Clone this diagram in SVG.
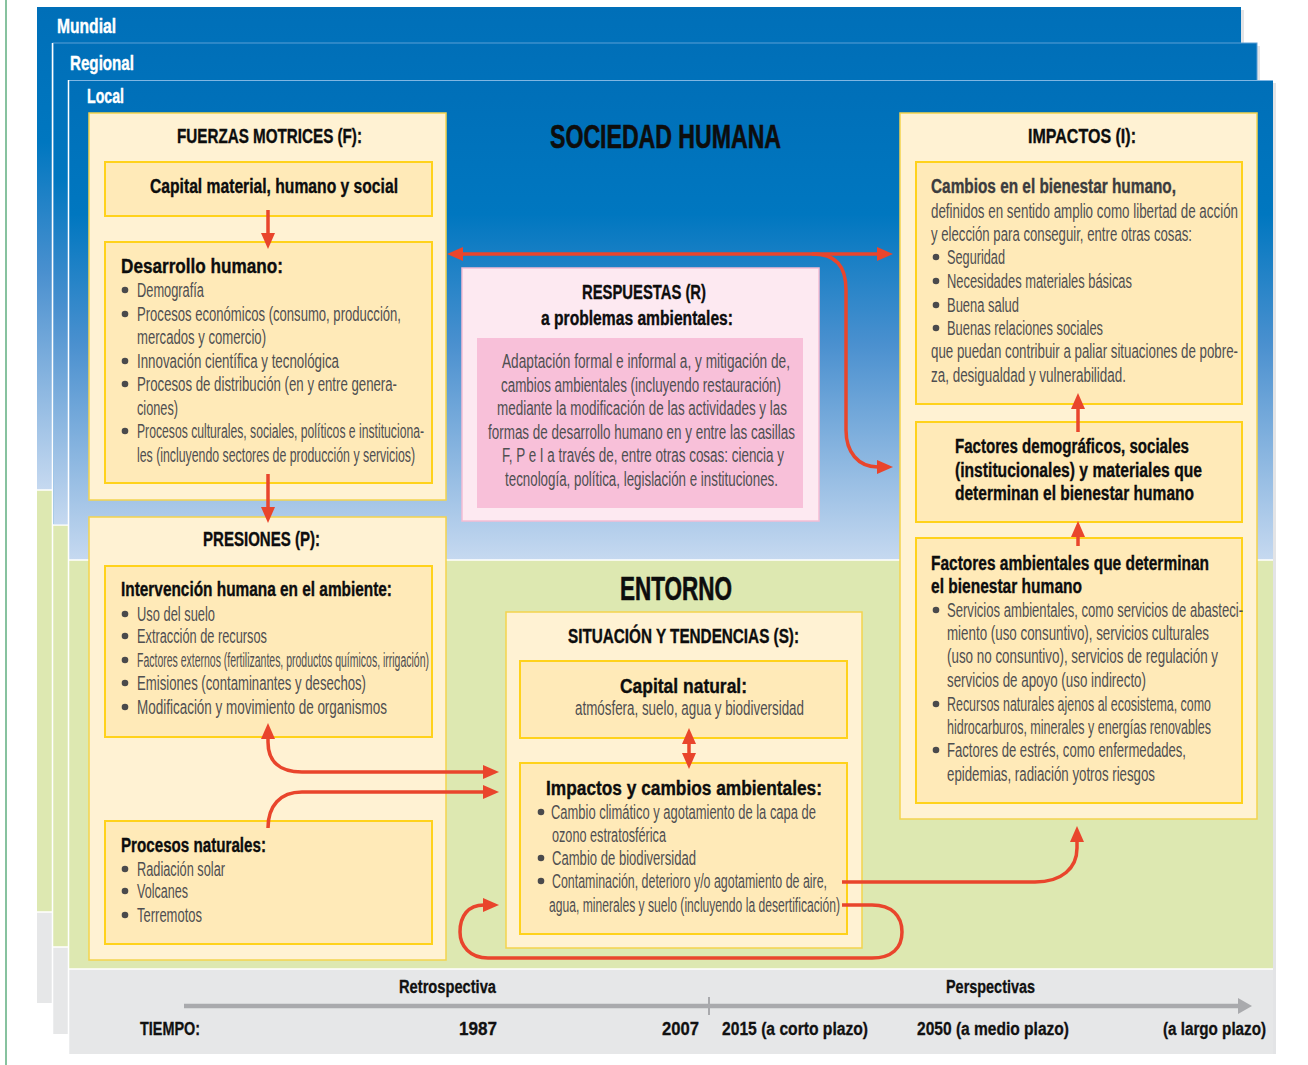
<svg xmlns="http://www.w3.org/2000/svg" width="1308" height="1065" viewBox="0 0 1308 1065">
<style>
text{font-family:"Liberation Sans Narrow","Liberation Sans",Arial,sans-serif}
.h{font-weight:bold;fill:#0d0d0d;stroke:#0d0d0d;stroke-width:0.35;font-size:20px}
.hb{font-weight:bold;fill:#0d0d0d;stroke:#0d0d0d;stroke-width:0.6;font-size:33px}
.hd{font-weight:bold;fill:#3c3c3e;stroke:#3c3c3e;stroke-width:0.35;font-size:20px}
.b{fill:#4f4f51;font-size:20px}
.w{font-weight:bold;fill:#fff;stroke:#fff;stroke-width:0.4;font-size:21px}
.tl{font-weight:bold;fill:#111;stroke:#111;stroke-width:0.3;font-size:18px}
.outer{fill:#fff2d3;stroke:#f3d34e;stroke-width:1.5}
.inner{fill:#ffeab8;stroke:#ffd21c;stroke-width:2}
.dot{fill:#4a4a4c}
.arr{fill:none;stroke:#e9452c;stroke-width:3.5}
.green{fill:#dde8b1}
.gray{fill:#e6e7e8}
.sep{stroke:#fff;stroke-width:1.5}
</style>
<defs>
<linearGradient id="gM" gradientUnits="userSpaceOnUse" x1="0" y1="7" x2="0" y2="490"><stop offset="0" stop-color="#006fb8"/><stop offset="0.28" stop-color="#0077c0"/><stop offset="0.55" stop-color="#4a90cf"/><stop offset="1" stop-color="#c6d9f0"/></linearGradient>
<linearGradient id="gR" gradientUnits="userSpaceOnUse" x1="0" y1="43" x2="0" y2="525"><stop offset="0" stop-color="#006fb8"/><stop offset="0.28" stop-color="#0077c0"/><stop offset="0.55" stop-color="#4a90cf"/><stop offset="1" stop-color="#c6d9f0"/></linearGradient>
<linearGradient id="gL" gradientUnits="userSpaceOnUse" x1="0" y1="80" x2="0" y2="560"><stop offset="0" stop-color="#006fb8"/><stop offset="0.28" stop-color="#0077c0"/><stop offset="0.55" stop-color="#4a90cf"/><stop offset="1" stop-color="#c6d9f0"/></linearGradient>
<marker id="ah" viewBox="0 0 16 14" refX="1" refY="7" markerWidth="16" markerHeight="14" markerUnits="userSpaceOnUse" orient="auto-start-reverse"><path d="M0,0 L16,7 L0,14 z" fill="#e9452c"/></marker>
<marker id="tah" viewBox="0 0 14 16" refX="1" refY="8" markerWidth="14" markerHeight="16" markerUnits="userSpaceOnUse" orient="auto"><path d="M0,0 L14,8 L0,16 z" fill="#a9aaad"/></marker>
</defs>
<rect width="1308" height="1065" fill="#fff"/>
<line x1="6" y1="0" x2="6" y2="1065" stroke="#5fae7f" stroke-width="1.5"/>

<g id="panel-mundial">
<rect x="1241" y="10" width="3" height="993" fill="#e3e4e6"/>
<rect x="37" y="7" width="1204" height="483" fill="url(#gM)"/>
<rect x="37" y="490" width="1204" height="422" class="green"/>
<rect x="37" y="912" width="1204" height="91" class="gray"/>
<line x1="37" y1="490" x2="60" y2="490" class="sep"/>
<line x1="37" y1="912" x2="60" y2="912" class="sep"/>
<text x="57" y="33" class="w" textLength="59" lengthAdjust="spacingAndGlyphs">Mundial</text>
</g>
<g id="panel-regional">
<rect x="1257" y="46" width="3" height="988" fill="#e3e4e6"/>
<rect x="53" y="43" width="1204" height="482" fill="url(#gR)" stroke="#5b9fd6" stroke-width="1"/>
<rect x="53" y="525" width="1204" height="422" class="green"/>
<rect x="53" y="947" width="1204" height="87" class="gray"/>
<line x1="52.5" y1="43" x2="52.5" y2="1034" class="sep"/>
<line x1="53" y1="525" x2="70" y2="525" class="sep"/>
<line x1="53" y1="947" x2="70" y2="947" class="sep"/>
<text x="70" y="70" class="w" textLength="64" lengthAdjust="spacingAndGlyphs">Regional</text>
</g>
<g id="panel-local">
<rect x="1273" y="83" width="3" height="971" fill="#e3e4e6"/>
<rect x="69" y="80" width="1204" height="480" fill="url(#gL)"/>
<line x1="69" y1="80.5" x2="1273" y2="80.5" stroke="#7fb6e3" stroke-width="1"/>
<rect x="69" y="560" width="1204" height="409" class="green"/>
<rect x="69" y="969" width="1204" height="85" class="gray"/>
<line x1="68.5" y1="80" x2="68.5" y2="1054" class="sep"/>
<line x1="69" y1="560" x2="1273" y2="560" class="sep"/>
<line x1="69" y1="969" x2="1273" y2="969" class="sep"/>
<text x="87" y="103" class="w" textLength="37" lengthAdjust="spacingAndGlyphs">Local</text>
</g>

<text x="550" y="148" class="hb" textLength="231" lengthAdjust="spacingAndGlyphs">SOCIEDAD HUMANA</text>
<text x="620" y="600" class="hb" textLength="112" lengthAdjust="spacingAndGlyphs">ENTORNO</text>

<g id="fuerzas-motrices">
<rect x="89" y="113" width="357" height="387" class="outer"/>
<text x="177" y="143" class="h" textLength="185" lengthAdjust="spacingAndGlyphs">FUERZAS MOTRICES (F):</text>
</g>
<g id="capital-material">
<rect x="105" y="162" width="327" height="54" class="inner"/>
<text x="150" y="193" class="h" font-size="21" textLength="248" lengthAdjust="spacingAndGlyphs">Capital material, humano y social</text>
</g>
<g id="desarrollo-humano">
<rect x="105" y="242" width="327" height="241" class="inner"/>
<text x="121" y="273" class="h" textLength="162" lengthAdjust="spacingAndGlyphs">Desarrollo humano:</text>
<circle cx="125" cy="290" r="3.3" class="dot"/><text x="137" y="297" class="b" textLength="67" lengthAdjust="spacingAndGlyphs">Demografía</text>
<circle cx="125" cy="314" r="3.3" class="dot"/><text x="137" y="321" class="b" textLength="264" lengthAdjust="spacingAndGlyphs">Procesos económicos (consumo, producción,</text>
<text x="137" y="344" class="b" textLength="129" lengthAdjust="spacingAndGlyphs">mercados y comercio)</text>
<circle cx="125" cy="361" r="3.3" class="dot"/><text x="137" y="368" class="b" textLength="202" lengthAdjust="spacingAndGlyphs">Innovación científica y tecnológica</text>
<circle cx="125" cy="384" r="3.3" class="dot"/><text x="137" y="391" class="b" textLength="260" lengthAdjust="spacingAndGlyphs">Procesos de distribución (en y entre genera-</text>
<text x="137" y="415" class="b" textLength="41" lengthAdjust="spacingAndGlyphs">ciones)</text>
<circle cx="125" cy="431" r="3.3" class="dot"/><text x="137" y="438" class="b" textLength="287" lengthAdjust="spacingAndGlyphs">Procesos culturales, sociales, políticos e instituciona-</text>
<text x="137" y="462" class="b" textLength="278" lengthAdjust="spacingAndGlyphs">les (incluyendo sectores de producción y servicios)</text>
</g>

<g id="presiones">
<rect x="89" y="517" width="357" height="443" class="outer"/>
<text x="203" y="546" class="h" textLength="117" lengthAdjust="spacingAndGlyphs">PRESIONES (P):</text>
</g>
<g id="intervencion-humana">
<rect x="105" y="566" width="327" height="171" class="inner"/>
<text x="121" y="596" class="h" textLength="271" lengthAdjust="spacingAndGlyphs">Intervención humana en el ambiente:</text>
<circle cx="125" cy="614" r="3.3" class="dot"/><text x="137" y="621" class="b" textLength="78" lengthAdjust="spacingAndGlyphs">Uso del suelo</text>
<circle cx="125" cy="636" r="3.3" class="dot"/><text x="137" y="643" class="b" textLength="130" lengthAdjust="spacingAndGlyphs">Extracción de recursos</text>
<circle cx="125" cy="660" r="3.3" class="dot"/><text x="137" y="667" class="b" textLength="292" lengthAdjust="spacingAndGlyphs">Factores externos (fertilizantes, productos químicos, irrigación)</text>
<circle cx="125" cy="683" r="3.3" class="dot"/><text x="137" y="690" class="b" textLength="229" lengthAdjust="spacingAndGlyphs">Emisiones (contaminantes y desechos)</text>
<circle cx="125" cy="707" r="3.3" class="dot"/><text x="137" y="714" class="b" textLength="250" lengthAdjust="spacingAndGlyphs">Modificación y movimiento de organismos</text>
</g>
<g id="procesos-naturales">
<rect x="105" y="821" width="327" height="123" class="inner"/>
<text x="121" y="852" class="h" textLength="145" lengthAdjust="spacingAndGlyphs">Procesos naturales:</text>
<circle cx="125" cy="869" r="3.3" class="dot"/><text x="137" y="876" class="b" textLength="88" lengthAdjust="spacingAndGlyphs">Radiación solar</text>
<circle cx="125" cy="891" r="3.3" class="dot"/><text x="137" y="898" class="b" textLength="51" lengthAdjust="spacingAndGlyphs">Volcanes</text>
<circle cx="125" cy="915" r="3.3" class="dot"/><text x="137" y="922" class="b" textLength="65" lengthAdjust="spacingAndGlyphs">Terremotos</text>
</g>

<g id="respuestas">
<rect x="462" y="268" width="357" height="253" fill="#fde9f1" stroke="#f4bcd3" stroke-width="1.5"/>
<text x="582" y="299" class="h" textLength="124" lengthAdjust="spacingAndGlyphs">RESPUESTAS (R)</text>
<text x="541" y="325" class="h" textLength="192" lengthAdjust="spacingAndGlyphs">a problemas ambientales:</text>
<rect x="477" y="338" width="326" height="170" fill="#f8c0d9"/>
<text x="502" y="368" class="b" textLength="288" lengthAdjust="spacingAndGlyphs">Adaptación formal e informal a, y mitigación de,</text>
<text x="501" y="392" class="b" textLength="280" lengthAdjust="spacingAndGlyphs">cambios ambientales (incluyendo restauración)</text>
<text x="497" y="415" class="b" textLength="290" lengthAdjust="spacingAndGlyphs">mediante la modificación de las actividades y las</text>
<text x="488" y="439" class="b" textLength="307" lengthAdjust="spacingAndGlyphs">formas de desarrollo humano en y entre las casillas</text>
<text x="502" y="462" class="b" textLength="282" lengthAdjust="spacingAndGlyphs">F, P e I a través de, entre otras cosas: ciencia y</text>
<text x="505" y="486" class="b" textLength="273" lengthAdjust="spacingAndGlyphs">tecnología, política, legislación e instituciones.</text>
</g>

<g id="situacion-tendencias">
<rect x="506" y="612" width="356" height="336" class="outer"/>
<text x="568" y="643" class="h" textLength="231" lengthAdjust="spacingAndGlyphs">SITUACIÓN Y TENDENCIAS (S):</text>
</g>
<g id="capital-natural">
<rect x="520" y="661" width="327" height="77" class="inner"/>
<text x="620" y="693" class="h" textLength="127" lengthAdjust="spacingAndGlyphs">Capital natural:</text>
<text x="575" y="715" class="b" textLength="229" lengthAdjust="spacingAndGlyphs">atmósfera, suelo, agua y biodiversidad</text>
</g>
<g id="impactos-cambios">
<rect x="520" y="763" width="327" height="171" class="inner"/>
<text x="546" y="795" class="h" textLength="276" lengthAdjust="spacingAndGlyphs">Impactos y cambios ambientales:</text>
<circle cx="541" cy="812" r="3.3" class="dot"/><text x="551" y="819" class="b" textLength="265" lengthAdjust="spacingAndGlyphs">Cambio climático y agotamiento de la capa de</text>
<text x="552" y="842" class="b" textLength="114" lengthAdjust="spacingAndGlyphs">ozono estratosférica</text>
<circle cx="541" cy="858" r="3.3" class="dot"/><text x="552" y="865" class="b" textLength="144" lengthAdjust="spacingAndGlyphs">Cambio de biodiversidad</text>
<circle cx="541" cy="881" r="3.3" class="dot"/><text x="552" y="888" class="b" textLength="275" lengthAdjust="spacingAndGlyphs">Contaminación, deterioro y/o agotamiento de aire,</text>
<text x="549" y="912" class="b" textLength="291" lengthAdjust="spacingAndGlyphs">agua, minerales y suelo (incluyendo la desertificación)</text>
</g>

<g id="impactos">
<rect x="900" y="113" width="357" height="706" class="outer"/>
<text x="1028" y="143" class="h" textLength="108" lengthAdjust="spacingAndGlyphs">IMPACTOS (I):</text>
</g>
<g id="cambios-bienestar">
<rect x="916" y="162" width="326" height="242" class="inner"/>
<text x="931" y="193" class="hd" textLength="245" lengthAdjust="spacingAndGlyphs">Cambios en el bienestar humano,</text>
<text x="931" y="218" class="b" textLength="307" lengthAdjust="spacingAndGlyphs">definidos en sentido amplio como libertad de acción</text>
<text x="931" y="241" class="b" textLength="261" lengthAdjust="spacingAndGlyphs">y elección para conseguir, entre otras cosas:</text>
<circle cx="936" cy="257" r="3.3" class="dot"/><text x="947" y="264" class="b" textLength="58" lengthAdjust="spacingAndGlyphs">Seguridad</text>
<circle cx="936" cy="281" r="3.3" class="dot"/><text x="947" y="288" class="b" textLength="185" lengthAdjust="spacingAndGlyphs">Necesidades materiales básicas</text>
<circle cx="936" cy="305" r="3.3" class="dot"/><text x="947" y="312" class="b" textLength="72" lengthAdjust="spacingAndGlyphs">Buena salud</text>
<circle cx="936" cy="328" r="3.3" class="dot"/><text x="947" y="335" class="b" textLength="156" lengthAdjust="spacingAndGlyphs">Buenas relaciones sociales</text>
<text x="931" y="358" class="b" textLength="307" lengthAdjust="spacingAndGlyphs">que puedan contribuir a paliar situaciones de pobre-</text>
<text x="931" y="382" class="b" textLength="195" lengthAdjust="spacingAndGlyphs">za, desigualdad y vulnerabilidad.</text>
</g>
<g id="factores-demograficos">
<rect x="916" y="422" width="326" height="100" class="inner"/>
<text x="955" y="453" class="h" textLength="234" lengthAdjust="spacingAndGlyphs">Factores demográficos, sociales</text>
<text x="955" y="477" class="h" textLength="247" lengthAdjust="spacingAndGlyphs">(institucionales) y materiales que</text>
<text x="955" y="500" class="h" textLength="239" lengthAdjust="spacingAndGlyphs">determinan el bienestar humano</text>
</g>
<g id="factores-ambientales">
<rect x="916" y="538" width="326" height="265" class="inner"/>
<text x="931" y="570" class="h" textLength="278" lengthAdjust="spacingAndGlyphs">Factores ambientales que determinan</text>
<text x="931" y="593" class="h" textLength="151" lengthAdjust="spacingAndGlyphs">el bienestar humano</text>
<circle cx="936" cy="610" r="3.3" class="dot"/><text x="947" y="617" class="b" textLength="296" lengthAdjust="spacingAndGlyphs">Servicios ambientales, como servicios de abasteci-</text>
<text x="947" y="640" class="b" textLength="262" lengthAdjust="spacingAndGlyphs">miento (uso consuntivo), servicios culturales</text>
<text x="947" y="663" class="b" textLength="271" lengthAdjust="spacingAndGlyphs">(uso no consuntivo), servicios de regulación y</text>
<text x="947" y="687" class="b" textLength="199" lengthAdjust="spacingAndGlyphs">servicios de apoyo (uso indirecto)</text>
<circle cx="936" cy="704" r="3.3" class="dot"/><text x="947" y="711" class="b" textLength="264" lengthAdjust="spacingAndGlyphs">Recursos naturales ajenos al ecosistema, como</text>
<text x="947" y="734" class="b" textLength="264" lengthAdjust="spacingAndGlyphs">hidrocarburos, minerales y energías renovables</text>
<circle cx="936" cy="750" r="3.3" class="dot"/><text x="947" y="757" class="b" textLength="239" lengthAdjust="spacingAndGlyphs">Factores de estrés, como enfermedades,</text>
<text x="947" y="781" class="b" textLength="208" lengthAdjust="spacingAndGlyphs">epidemias, radiación yotros riesgos</text>
</g>

<g id="connectors">
<path class="arr" d="M268,210 V234" marker-end="url(#ah)"/>
<path class="arr" d="M268,474 V508" marker-end="url(#ah)"/>
<path class="arr" d="M462,254 H878" marker-start="url(#ah)" marker-end="url(#ah)"/>
<path class="arr" d="M812,254 C836,254 846,266 846,290 V430 C846,452 858,467 878,467" marker-end="url(#ah)"/>
<path class="arr" d="M1078,432 V408" marker-end="url(#ah)"/>
<path class="arr" d="M1078,546 V536" marker-end="url(#ah)"/>
<path class="arr" d="M842,882 H1035 C1062,882 1077,868 1077,848 V841" marker-end="url(#ah)"/>
<path class="arr" d="M268,738 V742 C268,762 280,772 302,772 H484" marker-start="url(#ah)" marker-end="url(#ah)"/>
<path class="arr" d="M268,828 C268,806 280,792 302,792 H484" marker-end="url(#ah)"/>
<path class="arr" d="M842,905 H872 C892,905 902,916 902,932 C902,948 892,958 872,958 H488 C470,958 460,946 460,932 C460,916 468,905 484,905" marker-end="url(#ah)"/>
<path class="arr" d="M689,743 V754" marker-start="url(#ah)" marker-end="url(#ah)"/>
</g>

<g id="timeline">
<line x1="184" y1="1006" x2="1239" y2="1006" stroke="#a9aaad" stroke-width="4.5" marker-end="url(#tah)"/>
<line x1="709" y1="997" x2="709" y2="1015" stroke="#a9aaad" stroke-width="2"/>
<text x="399" y="993" class="tl" textLength="97" lengthAdjust="spacingAndGlyphs">Retrospectiva</text>
<text x="946" y="993" class="tl" textLength="89" lengthAdjust="spacingAndGlyphs">Perspectivas</text>
<text x="140" y="1035" class="tl" textLength="60" lengthAdjust="spacingAndGlyphs">TIEMPO:</text>
<text x="459" y="1035" class="tl" textLength="38" lengthAdjust="spacingAndGlyphs">1987</text>
<text x="662" y="1035" class="tl" textLength="37" lengthAdjust="spacingAndGlyphs">2007</text>
<text x="722" y="1035" class="tl" textLength="146" lengthAdjust="spacingAndGlyphs">2015 (a corto plazo)</text>
<text x="917" y="1035" class="tl" textLength="152" lengthAdjust="spacingAndGlyphs">2050 (a medio plazo)</text>
<text x="1163" y="1035" class="tl" textLength="103" lengthAdjust="spacingAndGlyphs">(a largo plazo)</text>
</g>
</svg>
